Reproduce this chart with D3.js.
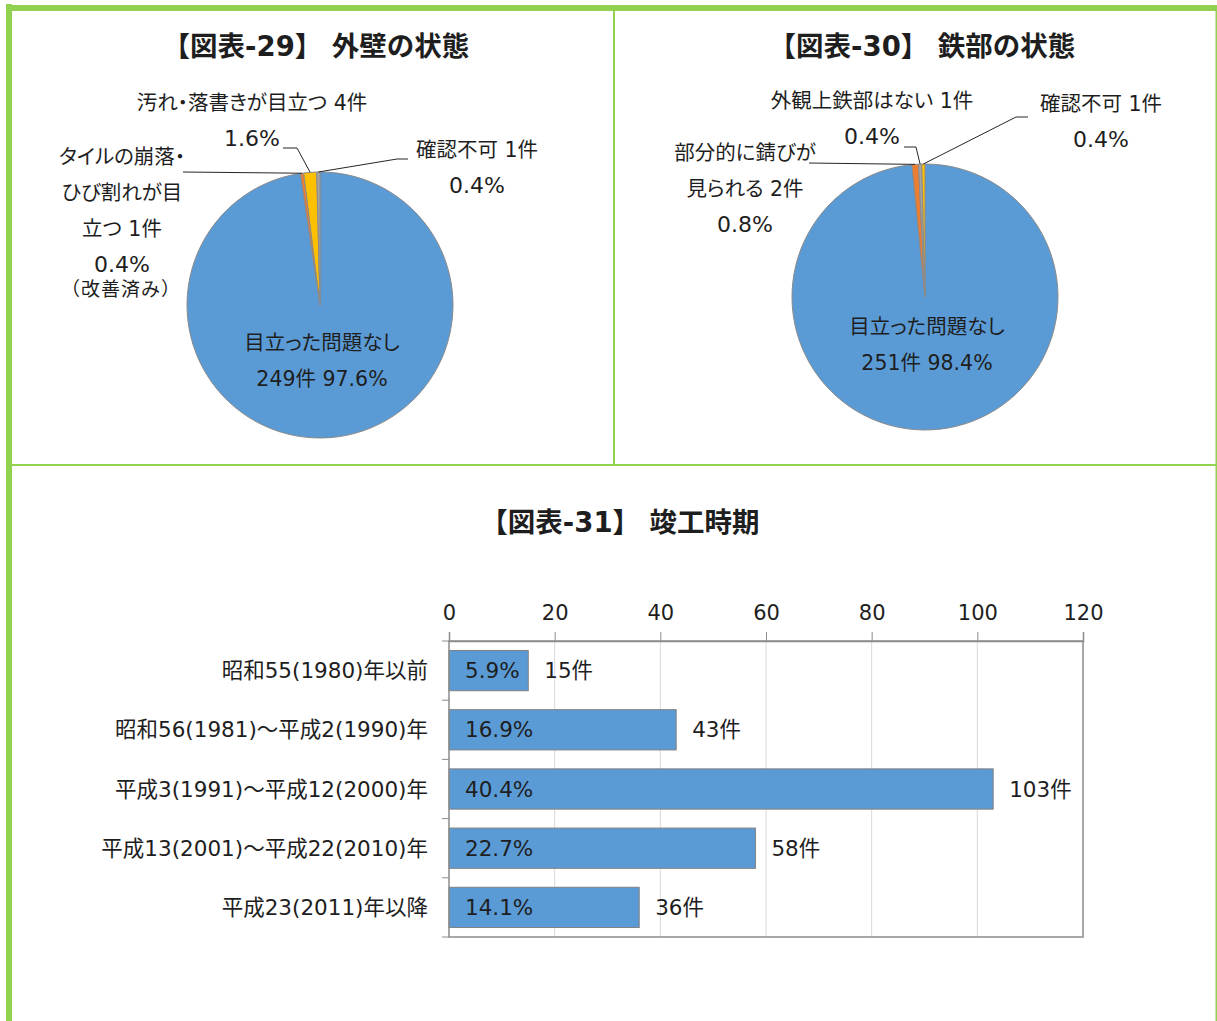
<!DOCTYPE html>
<html>
<head>
<meta charset="utf-8">
<script src="https://cdn.jsdelivr.net/npm/d3@7"></script>
<style>
  html, body { margin: 0; padding: 0; background: #fff; }
  svg text {
    font-family: "DejaVu Sans", "Noto Sans CJK JP", sans-serif;
    font-feature-settings: "palt";
    fill: #1e1e1e;
  }
  svg text.title, svg text.nopalt { font-feature-settings: normal; }
</style>
</head>
<body>
<div id="wrapper"></div>
<script>
/// Data ///
// 図表-29 外壁の状態
const wallLabels = ["目立った問題なし", "タイルの崩落・ひび割れが目立つ", "汚れ・落書きが目立つ", "確認不可"];
const wallCounts = [249, 1, 4, 1];
const wallPcts = ["97.6%", "0.4%", "1.6%", "0.4%"];

// 図表-30 鉄部の状態
const steelLabels = ["目立った問題なし", "部分的に錆びが見られる", "外観上鉄部はない", "確認不可"];
const steelCounts = [251, 2, 1, 1];
const steelPcts = ["98.4%", "0.8%", "0.4%", "0.4%"];

// 図表-31 竣工時期
const eraLabels = ["昭和55(1980)年以前", "昭和56(1981)～平成2(1990)年", "平成3(1991)～平成12(2000)年", "平成13(2001)～平成22(2010)年", "平成23(2011)年以降"];
const eraCounts = [15, 43, 103, 58, 36];
const eraPcts = ["5.9%", "16.9%", "40.4%", "22.7%", "14.1%"];
const eraTicks = [0, 20, 40, 60, 80, 100, 120];

/// Styles ///
const wallColours = ["#5B9BD5", "#ED7D31", "#FFC000", "#A5A5A5"];
const steelColours = ["#5B9BD5", "#ED7D31", "#A5A5A5", "#FFC000"];
const green = "#92D050";
const width = 1217;
const height = 1021;
const fs = 20.5;     // pie labels
const numFs = 22;    // percentage-only pie lines
const barFs = 21.5;  // bar chart texts

const svg = d3.select("#wrapper").append("svg")
  .attr("width", width)
  .attr("height", height);

/// Frame ///
svg.append("rect").attr("x", 6).attr("y", 5).attr("width", width - 6).attr("height", 6).attr("fill", green);
svg.append("rect").attr("x", 6).attr("y", 4).attr("width", 6).attr("height", height).attr("fill", green);
svg.append("rect").attr("x", 613).attr("y", 11).attr("width", 2).attr("height", 454).attr("fill", green);
svg.append("rect").attr("x", 12).attr("y", 464).attr("width", width - 12).attr("height", 2).attr("fill", green);
svg.append("rect").attr("x", 1215.5).attr("y", 11).attr("width", 1.5).attr("height", height).attr("fill", green);

const title = (x, y, t) => svg.append("text")
  .attr("class", "title")
  .attr("x", x).attr("y", y)
  .attr("text-anchor", "middle")
  .attr("font-size", 27.5).attr("font-weight", "bold")
  .text(t);

// each line is a string; percentage-only lines get the larger size
const label = (x, y, lines) => {
  const t = svg.append("text")
    .attr("text-anchor", "middle")
    .attr("font-size", fs);
  lines.forEach((s, i) => {
    t.append("tspan")
      .attr("x", x).attr("y", y + i * 36)
      .attr("font-size", /^[0-9.%]+$/.test(s) ? numFs : null)
      .text(s);
  });
  return t;
};

/// Pie drawing ///
const radius = 133;
const drawPie = (cx, cy, counts, colours, leaders) => {
  const pie = d3.pie().sort(null).value(d => d);
  const arcs = pie(counts);
  const arc = d3.arc().innerRadius(0).outerRadius(radius);
  const g = svg.append("g").attr("transform", `translate(${cx},${cy})`);
  g.selectAll("path")
    .data(arcs)
    .join("path")
      .attr("d", arc)
      .attr("fill", (d, i) => colours[i])
      .attr("stroke", "#8a8a8a")
      .attr("stroke-width", 1)
      .attr("stroke-linejoin", "round");
  // leader lines from slice edge to label
  leaders.forEach(ld => {
    const a = arcs[ld.i];
    const p = d3.pointRadial((a.startAngle + a.endAngle) / 2, radius);
    const pts = [[cx + p[0], cy + p[1]], ...ld.pts];
    svg.append("path")
      .attr("d", d3.line()(pts))
      .attr("fill", "none")
      .attr("stroke", "#262626")
      .attr("stroke-width", 1);
  });
};

/// 図表-29 ///
title(316, 56, "【図表-29】 外壁の状態");
drawPie(320, 305, wallCounts, wallColours, [
  { i: 1, pts: [[183, 172]] },
  { i: 2, pts: [[297, 148], [283, 148]] },
  { i: 3, pts: [[397, 159], [408, 159]] }
]);
label(252, 110, [`汚れ・落書きが目立つ ${wallCounts[2]}件`, wallPcts[2]]);
label(477, 157, [`確認不可 ${wallCounts[3]}件`, wallPcts[3]]);
label(122, 164, ["タイルの崩落・", "ひび割れが目", `立つ ${wallCounts[1]}件`, wallPcts[1]]);
svg.append("text")
  .attr("class", "nopalt")
  .attr("x", 121).attr("y", 296)
  .attr("text-anchor", "middle")
  .attr("font-size", 19)
  .attr("letter-spacing", 1)
  .text("（改善済み）");
label(322, 350, [wallLabels[0], `${wallCounts[0]}件 ${wallPcts[0]}`]);

/// 図表-30 ///
title(922, 56, "【図表-30】 鉄部の状態");
drawPie(925, 297, steelCounts, steelColours, [
  { i: 1, pts: [[809, 163]] },
  { i: 2, pts: [[916, 147], [904, 147]] },
  { i: 3, pts: [[1016, 117], [1028, 117]] }
]);
label(872, 108, [`${steelLabels[2]} ${steelCounts[2]}件`, steelPcts[2]]);
label(1101, 111, [`${steelLabels[3]} ${steelCounts[3]}件`, steelPcts[3]]);
label(745, 160, ["部分的に錆びが", `見られる ${steelCounts[1]}件`, steelPcts[1]]);
label(927, 334, [steelLabels[0], `${steelCounts[0]}件 ${steelPcts[0]}`]);

/// 図表-31 ///
title(620, 532, "【図表-31】 竣工時期");

const plot = { left: 449, right: 1083, top: 641, bottom: 937 };
const x = d3.scaleLinear().domain([0, 120]).range([plot.left, plot.right]);
const y = d3.scaleBand().domain(eraLabels).range([plot.top, plot.bottom])
  .paddingInner(0.32).paddingOuter(0.16);

// gridlines
svg.append("g")
  .selectAll("line")
  .data(eraTicks.slice(1, -1))
  .join("line")
    .attr("x1", d => x(d)).attr("x2", d => x(d))
    .attr("y1", plot.top).attr("y2", plot.bottom)
    .attr("stroke", "#d9d9d9");

// bars
svg.append("g")
  .selectAll("rect")
  .data(eraCounts)
  .join("rect")
    .attr("x", x(0))
    .attr("y", (d, i) => y(eraLabels[i]))
    .attr("width", d => x(d) - x(0))
    .attr("height", y.bandwidth())
    .attr("fill", "#5B9BD5")
    .attr("stroke", "#808080")
    .attr("stroke-width", 1);

// plot frame
svg.append("rect")
  .attr("x", plot.left).attr("y", plot.top)
  .attr("width", plot.right - plot.left).attr("height", plot.bottom - plot.top)
  .attr("fill", "none").attr("stroke", "#8c8c8c").attr("stroke-width", 1.5);

// top axis
const xAxis = svg.append("g")
  .attr("transform", `translate(0,${plot.top})`)
  .call(d3.axisTop(x).tickValues(eraTicks).tickSize(9).tickPadding(12));
xAxis.select(".domain").attr("stroke", "#8c8c8c").attr("stroke-width", 1.5);
xAxis.selectAll(".tick line").attr("stroke", "#8c8c8c");
xAxis.selectAll(".tick text")
  .attr("font-size", 21)
  .attr("font-family", null)
  .attr("fill", "#1e1e1e");

// left category ticks at band boundaries
const bounds = d3.range(eraLabels.length + 1).map(i => plot.top + i * (plot.bottom - plot.top) / eraLabels.length);
svg.append("g")
  .selectAll("line")
  .data(bounds)
  .join("line")
    .attr("x1", plot.left - 7).attr("x2", plot.left)
    .attr("y1", d => d).attr("y2", d => d)
    .attr("stroke", "#8c8c8c");

// category labels
svg.append("g")
  .selectAll("text")
  .data(eraLabels)
  .join("text")
    .attr("x", 428)
    .attr("y", d => y(d) + y.bandwidth() / 2)
    .attr("dy", "0.35em")
    .attr("text-anchor", "end")
    .attr("font-size", barFs)
    .text(d => d);

// value labels
svg.append("g")
  .selectAll("text")
  .data(eraPcts)
  .join("text")
    .attr("x", x(0) + 16)
    .attr("y", (d, i) => y(eraLabels[i]) + y.bandwidth() / 2)
    .attr("dy", "0.35em")
    .attr("font-size", barFs)
    .text(d => d);

svg.append("g")
  .selectAll("text")
  .data(eraCounts)
  .join("text")
    .attr("x", d => x(d) + 16)
    .attr("y", (d, i) => y(eraLabels[i]) + y.bandwidth() / 2)
    .attr("dy", "0.35em")
    .attr("font-size", barFs)
    .text(d => `${d}件`);
</script>
</body>
</html>
